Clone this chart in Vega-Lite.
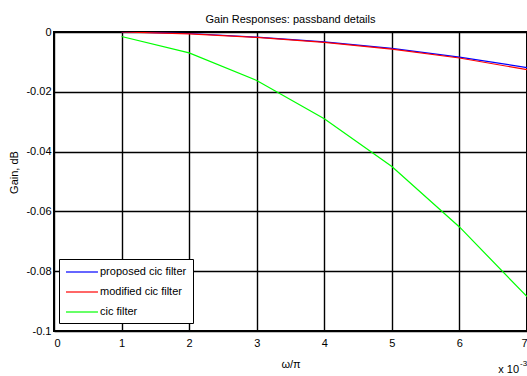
{
  "$schema": "https://vega.github.io/schema/vega-lite/v6.json",
  "width": 473,
  "height": 299,
  "autosize": {"type": "none"},
  "padding": {"left": 54, "top": 32, "right": 0, "bottom": 45},
  "title": {
    "text": "Gain Responses: passband details",
    "frame": "group",
    "anchor": "middle",
    "fontSize": 11,
    "fontWeight": "normal",
    "font": "Liberation Sans",
    "color": "#000",
    "offset": 1
  },
  "config": {
    "font": "Liberation Sans",
    "view": {"stroke": "#000", "strokeWidth": 2},
    "axis": {
      "labelColor": "#000",
      "titleColor": "#000",
      "labelFontSize": 11,
      "titleFontSize": 11,
      "titleFontWeight": "normal",
      "grid": true,
      "gridColor": "#000",
      "gridWidth": 1.4,
      "gridOpacity": 1,
      "ticks": false,
      "domain": false
    }
  },
  "layer": [
    {
      "data": {
        "values": [
          {"w": 1, "gain": 0.0, "filter": "proposed cic filter"},
          {"w": 2, "gain": -0.0005, "filter": "proposed cic filter"},
          {"w": 3, "gain": -0.0017, "filter": "proposed cic filter"},
          {"w": 4, "gain": -0.0033, "filter": "proposed cic filter"},
          {"w": 5, "gain": -0.0055, "filter": "proposed cic filter"},
          {"w": 6, "gain": -0.0084, "filter": "proposed cic filter"},
          {"w": 7, "gain": -0.0119, "filter": "proposed cic filter"},
          {"w": 1, "gain": 0.0, "filter": "modified cic filter"},
          {"w": 2, "gain": -0.0006, "filter": "modified cic filter"},
          {"w": 3, "gain": -0.0018, "filter": "modified cic filter"},
          {"w": 4, "gain": -0.0035, "filter": "modified cic filter"},
          {"w": 5, "gain": -0.0057, "filter": "modified cic filter"},
          {"w": 6, "gain": -0.0087, "filter": "modified cic filter"},
          {"w": 7, "gain": -0.0126, "filter": "modified cic filter"},
          {"w": 1, "gain": -0.0015, "filter": "cic filter"},
          {"w": 2, "gain": -0.0070, "filter": "cic filter"},
          {"w": 3, "gain": -0.0162, "filter": "cic filter"},
          {"w": 4, "gain": -0.0290, "filter": "cic filter"},
          {"w": 5, "gain": -0.0450, "filter": "cic filter"},
          {"w": 6, "gain": -0.0652, "filter": "cic filter"},
          {"w": 7, "gain": -0.0885, "filter": "cic filter"}
        ]
      },
      "mark": {"type": "line", "strokeWidth": 1.2, "clip": true},
      "encoding": {
        "x": {
          "field": "w",
          "type": "quantitative",
          "scale": {"domain": [0, 7], "nice": false, "zero": false},
          "axis": {
            "values": [0, 1, 2, 3, 4, 5, 6, 7],
            "format": "d",
            "labelPadding": 6,
            "title": "ω/π",
            "titlePadding": 10
          }
        },
        "y": {
          "field": "gain",
          "type": "quantitative",
          "scale": {"domain": [-0.1, 0], "nice": false, "zero": false},
          "axis": {
            "values": [0, -0.02, -0.04, -0.06, -0.08, -0.1],
            "labelExpr": "toString(datum.value)",
            "labelPadding": 3,
            "title": "Gain, dB",
            "titlePadding": 6,
            "titleY": 140
          }
        },
        "color": {
          "field": "filter",
          "type": "nominal",
          "scale": {
            "domain": ["proposed cic filter", "modified cic filter", "cic filter"],
            "range": ["#0000ff", "#ff0000", "#00ff00"]
          },
          "legend": {
            "orient": "none",
            "legendX": 5,
            "legendY": 227,
            "title": null,
            "fillColor": "#ffffff",
            "strokeColor": "#000000",
            "padding": 6,
            "symbolType": "M-1,0H4.33",
            "symbolSize": 144,
            "symbolStrokeWidth": 1.2,
            "labelOffset": 21,
            "labelFontSize": 11,
            "labelColor": "#000",
            "rowPadding": 8
          }
        }
      }
    },
    {
      "data": {"values": [{"w": 7, "gain": -0.1, "label": "x 10"}]},
      "mark": {"type": "text", "align": "right", "baseline": "middle", "dx": -8, "dy": 39, "fontSize": 11, "color": "#000"},
      "encoding": {
        "x": {"field": "w", "type": "quantitative"},
        "y": {"field": "gain", "type": "quantitative"},
        "text": {"field": "label"}
      }
    },
    {
      "data": {"values": [{"w": 7, "gain": -0.1, "label": "-3"}]},
      "mark": {"type": "text", "align": "left", "baseline": "middle", "dx": -7, "dy": 33, "fontSize": 8, "color": "#000"},
      "encoding": {
        "x": {"field": "w", "type": "quantitative"},
        "y": {"field": "gain", "type": "quantitative"},
        "text": {"field": "label"}
      }
    }
  ]
}
